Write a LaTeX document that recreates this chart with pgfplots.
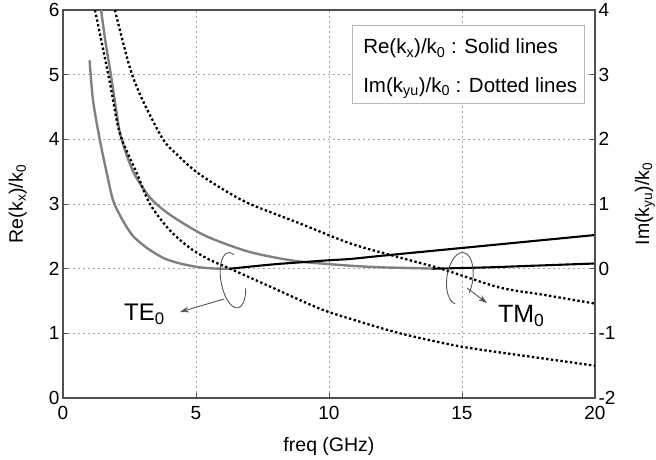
\documentclass[border=0pt]{standalone}
\usepackage{fontspec}
\setmainfont{Liberation Sans}
\usepackage{pgfplots}
\pgfplotsset{compat=1.18}
\usetikzlibrary{arrows.meta}

\definecolor{curvegray}{RGB}{128,128,128}
\definecolor{framegray}{RGB}{80,80,80}
\definecolor{gridgray}{RGB}{165,165,165}
\definecolor{boxgray}{RGB}{185,185,185}
\definecolor{annot}{RGB}{85,85,85}

\begin{document}
\begin{tikzpicture}
\pgfplotsset{
  base/.style={
    scale only axis, width=532pt, height=388pt,
    xmin=0, xmax=20,
    axis line style={framegray, line width=1.1pt},
    tick style={framegray, line width=0.9pt},
    tick align=inside, major tick length=5pt,
    ticklabel style={font=\fontsize{19}{22}\selectfont},
    label style={font=\fontsize{19.5}{22}\selectfont},
    /pgf/number format/assume math mode=true,
  },
}
% left axis: Re(kx)/k0
\begin{axis}[base,
  ymin=0, ymax=6,
  xtick={0,5,10,15,20}, ytick={0,1,...,6},
  xtick pos=bottom, ytick pos=left,
  xticklabel style={yshift=-5pt},
  grid=major,
  grid style={gridgray, line width=0.8pt, dash pattern=on 2pt off 3pt},
  xlabel={freq (GHz)},
  xlabel style={at={(axis description cs:0.5,-0.124)}, anchor=center},
  ylabel={Re(k\textsubscript{x})/k\textsubscript{0}},
  ylabel style={at={(axis description cs:-0.085,0.5)}, anchor=center},
]
% TE0, Re (gray)
\addplot[curvegray, line width=2.4pt, smooth, tension=0.5] coordinates {
  (1.0,5.22) (1.13,4.6) (1.39,3.98) (1.65,3.47) (1.88,3.06) (2.2,2.78)
  (2.6,2.52) (3.0,2.37) (3.3,2.28) (3.8,2.16) (4.4,2.08) (5.15,2.02)
  (5.8,2.0) (6.3,2.0)};
% TM0, Re (gray)
\addplot[curvegray, line width=2.4pt, smooth, tension=0.5] coordinates {
  (1.43,6.0) (1.6,5.5) (1.8,5.0) (2.0,4.45) (2.14,4.1) (2.4,3.75)
  (2.7,3.45) (3.27,3.1) (4.0,2.84) (5.15,2.55) (6.0,2.4) (7.0,2.26)
  (8.0,2.17) (8.9,2.11) (10.0,2.07) (11,2.04) (12,2.02) (13,2.01) (14,2.0)};
% TE0, Re (black)
\addplot[black, line width=2.1pt, smooth, tension=0.5] coordinates {
  (6.3,2.0) (7,2.03) (8,2.07) (9,2.1) (10,2.13) (10.8,2.15) (12,2.2)
  (14,2.28) (16,2.36) (18,2.44) (20,2.52)};
% TM0, Re (black)
\addplot[black, line width=2.1pt, smooth, tension=0.5] coordinates {
  (13.9,2.0) (15,2.01) (16,2.02) (17,2.035) (18,2.05) (19,2.065) (20,2.08)};

\coordinate (sw) at (rel axis cs:0,0);
\coordinate (ne) at (rel axis cs:1,1);
\coordinate (teC) at (axis cs:6.39,1.82);
\coordinate (teA) at (axis cs:6.05,1.53);
\coordinate (teB) at (axis cs:4.40,1.33);
\coordinate (teT) at (axis cs:3.83,1.20);
\coordinate (tmC) at (axis cs:14.92,1.85);
\coordinate (tmA) at (axis cs:15.19,1.70);
\coordinate (tmB) at (axis cs:15.94,1.47);
\coordinate (tmT) at (axis cs:16.35,1.17);
\coordinate (boxA) at (axis cs:10.90,5.76);
\coordinate (boxB) at (axis cs:19.62,4.55);
\coordinate (l1) at (axis cs:11.28,5.32);
\coordinate (l2) at (axis cs:11.28,4.72);
\end{axis}

% right axis: Im(kyu)/k0
\begin{axis}[base,
  ymin=-2, ymax=4, ytick={-2,-1,...,4},
  axis x line=none, axis y line*=right,
  ylabel={Im(k\textsubscript{yu})/k\textsubscript{0}},
  ylabel style={at={(axis description cs:1.094,0.5)}, anchor=center},
]
% TE0, Im (dotted)
\addplot[black, line width=2.3pt, dash pattern=on 2.4pt off 2.4pt, smooth, tension=0.5] coordinates {
  (1.2,4.0) (1.39,3.63) (1.77,2.86) (2.14,2.09) (2.78,1.47) (3.27,1.0)
  (4.0,0.6) (4.77,0.32) (5.5,0.14) (6.28,0.0) (7.8,-0.28) (9.66,-0.62)
  (11,-0.8) (12.67,-1.0) (14.9,-1.2) (17.2,-1.34) (20,-1.5)};
% TM0, Im (dotted)
\addplot[black, line width=2.3pt, dash pattern=on 2.4pt off 2.4pt, smooth, tension=0.5] coordinates {
  (1.95,4.0) (2.52,3.1) (3.0,2.6) (3.76,2.0) (4.3,1.76) (5.0,1.5)
  (6.0,1.23) (7.03,1.0) (8.9,0.7) (10.8,0.39) (12.5,0.19) (14.2,0.0)
  (16.4,-0.29) (18,-0.4) (20,-0.54)};
\end{axis}

% legend box
\draw[boxgray, line width=0.9pt, fill=white] (boxA) rectangle (boxB);
\node[anchor=base west, inner sep=0pt, font=\fontsize{20.5}{24}\selectfont]
  at (l1) {Re(k\textsubscript{x})/k\textsubscript{0} : Solid lines};
\node[anchor=base west, inner sep=0pt, font=\fontsize{20.5}{24}\selectfont]
  at (l2) {Im(k\textsubscript{yu})/k\textsubscript{0} : Dotted lines};

% mode annotations
\begin{scope}[shift={(teC)}, rotate=10]
  \draw[annot, line width=0.9pt] (63:12pt and 28pt)
    arc[start angle=63, end angle=340, x radius=12pt, y radius=28pt];
\end{scope}
\draw[annot, line width=0.9pt, -{Stealth[length=9pt, width=6pt]}] (teA) -- (teB);
\node[anchor=base east, inner sep=0pt, font=\fontsize{24}{28}\selectfont]
  at (teT) {TE\textsubscript{0}};

\begin{scope}[shift={(tmC)}, rotate=-8]
  \draw[annot, line width=0.9pt] (-30:13pt and 26pt)
    arc[start angle=-30, end angle=265, x radius=13pt, y radius=26pt];
\end{scope}
\draw[annot, line width=0.9pt, -{Stealth[length=9pt, width=6pt]}] (tmA) -- (tmB);
\node[anchor=base west, inner sep=0pt, font=\fontsize{25}{29}\selectfont]
  at (tmT) {TM\textsubscript{0}};

\pgfresetboundingbox
\path[use as bounding box] ([shift={(-63pt,-62pt)}]sw) rectangle ([shift={(61pt,10pt)}]ne);
\end{tikzpicture}
\end{document}
